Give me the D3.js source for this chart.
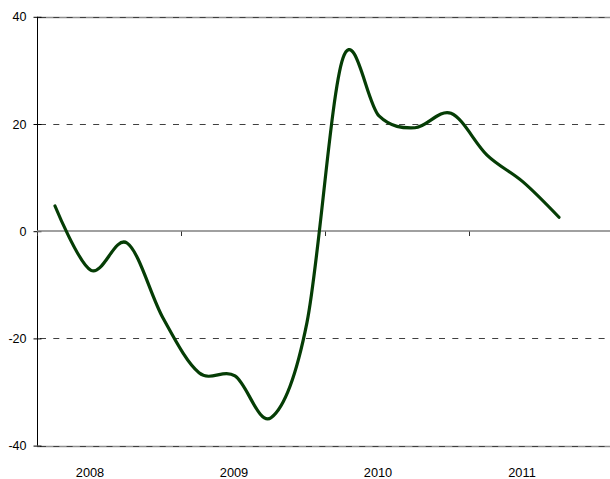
<!DOCTYPE html>
<html>
<head>
<meta charset="utf-8">
<script src="https://cdn.jsdelivr.net/npm/d3@7"></script>
<style>
  html, body { margin: 0; padding: 0; background: #fff; }
  svg { display: block; }
  text { font-family: "Liberation Sans", Arial, sans-serif; fill: #000; }
</style>
</head>
<body>
<svg id="chart" width="610" height="479"></svg>
<script>
// Quarterly categories (first category is Q4 2007; the last one has no data)
const categories = [
  "2007Q4","2008Q1","2008Q2","2008Q3",
  "2008Q4","2009Q1","2009Q2","2009Q3",
  "2009Q4","2010Q1","2010Q2","2010Q3",
  "2010Q4","2011Q1","2011Q2","2011Q3"
];
const values = [4.7, -7.3, -2.2, -16.2, -26.4, -27.0, -34.8, -17.0,
                 32.3, 21.5, 19.3, 22.0, 14.2, 9.2, 2.6];
const yearLabels = ["2008", "2009", "2010", "2011"];
const yearLabelCategories = ["2008Q1", "2009Q1", "2010Q1", "2011Q1"];
const yTicks = [-40, -20, 0, 20, 40];

const svg = d3.select("#chart");
const plotLeft = 37, plotRight = 613, plotTop = 16.8, plotBottom = 445.6;

const x = d3.scaleBand().domain(categories).range([plotLeft, plotRight]).padding(0);
const y = d3.scaleLinear().domain([-40, 40]).range([plotBottom, plotTop]);

// Gridlines
const grid = svg.append("g");
[40, -40].forEach(v => {
  grid.append("line")
    .attr("x1", plotLeft).attr("x2", 610)
    .attr("y1", Math.round(y(v)) + 0.5).attr("y2", Math.round(y(v)) + 0.5)
    .attr("stroke", "#909090").attr("stroke-width", 1.5);
});
grid.selectAll("line.g").data(yTicks.filter(v => v !== 0))
  .enter().append("line").attr("class", "g")
  .attr("x1", plotLeft + 3).attr("x2", 610)
  .attr("y1", d => Math.round(y(d)) + 0.5).attr("y2", d => Math.round(y(d)) + 0.5)
  .attr("stroke", "#404040").attr("stroke-width", 1.2)
  .attr("stroke-dasharray", "6,7.3");

// Y axis
const yAxis = d3.axisLeft(y).tickValues(yTicks).tickSize(4).tickPadding(7)
  .tickFormat(d => String(d));
const yg = svg.append("g").attr("transform", `translate(${plotLeft + 0.5},0)`).call(yAxis);
yg.select(".domain").attr("stroke", "#000").attr("d", `M0,${y(40)}V${y(-40)}`);
yg.selectAll(".tick line").attr("stroke", "#000").attr("x1", 4).attr("x2", -4);
yg.selectAll(".tick text").attr("font-size", 12.5).attr("font-family", "Liberation Sans, Arial, sans-serif").attr("fill", "#000");

// X axis along zero
const tickCats = categories.filter((c, i) => i % 4 === 0);
const xAxis = d3.axisBottom(x).tickValues(tickCats).tickSize(5).tickFormat("");
const xg = svg.append("g").attr("transform", `translate(0,${Math.round(y(0))})`).call(xAxis);
xg.select(".domain").remove();
xg.append("line").attr("x1", plotLeft).attr("x2", 610).attr("y1", 0).attr("y2", 0)
  .attr("stroke", "#808080").attr("stroke-width", 1.6);
xg.selectAll(".tick").attr("transform", d => `translate(${x(d) + 0.5},0)`);
xg.selectAll(".tick line").attr("stroke", "#303030").attr("y1", 0).attr("y2", 5);

// Year labels
svg.append("g").selectAll("text").data(yearLabels).enter().append("text")
  .attr("x", (d, i) => x(yearLabelCategories[i]) + x.bandwidth() / 2 - 1)
  .attr("y", 477)
  .attr("text-anchor", "middle")
  .attr("font-size", 12.8)
  .text(d => d);

// Line
const line = d3.line()
  .x((d, i) => x(categories[i]) + x.bandwidth() / 2)
  .y(d => y(d))
  .curve(d3.curveCardinal.tension(0));
svg.append("path").datum(values)
  .attr("d", line)
  .attr("fill", "none")
  .attr("stroke", "#053d05")
  .attr("stroke-width", 3.2)
  .attr("stroke-linecap", "round")
  .attr("stroke-linejoin", "round");
</script>
</body>
</html>
